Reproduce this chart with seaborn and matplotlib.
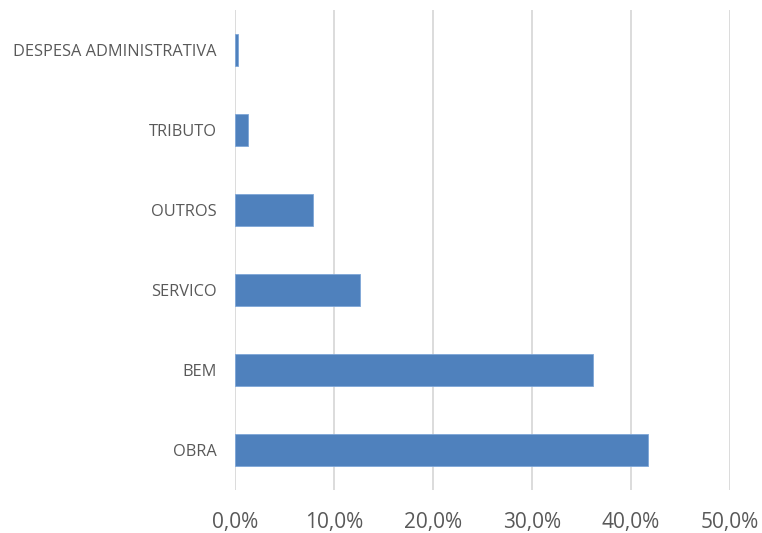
import seaborn as sns
import matplotlib.pyplot as plt
import pandas as pd
from matplotlib.ticker import FuncFormatter

# categories from top to bottom, shares as fractions
categorias = ["DESPESA ADMINISTRATIVA", "TRIBUTO", "OUTROS", "SERVICO", "BEM", "OBRA"]
percentuais = [0.003, 0.0128, 0.079, 0.126, 0.362, 0.417]
ticks_x = [0.0, 0.1, 0.2, 0.3, 0.4, 0.5]


def plot_data(df):
    sns.set_style("white")
    plt.rcParams['font.family'] = ['Open Sans', 'DejaVu Sans']

    fig = plt.figure(figsize=(7.62, 5.33), dpi=100)
    ax = fig.add_axes([0.3084, 0.0807, 0.6496, 0.9005])

    sns.barplot(data=df, x="valor", y="categoria", orient="h",
                color="#4f81bd", saturation=1, width=0.4,
                edgecolor="#7ea6d8", linewidth=0.6, ax=ax)

    ax.set_xlim(0, 0.5)
    ax.set_ylim(5.5, -0.5)
    ax.set_xticks(ticks_x)
    ax.xaxis.set_major_formatter(
        FuncFormatter(lambda v, _: f"{v * 100:.1f}%".replace(".", ",")))
    ax.grid(axis="x", color="#d9d9d9", linewidth=1.3)
    ax.set_axisbelow(True)
    for s in ax.spines.values():
        s.set_visible(False)

    ax.tick_params(axis="x", length=0, pad=15.5, labelsize=15, labelcolor="#595959")
    ax.tick_params(axis="y", length=0, pad=13, labelsize=11.8, labelcolor="#595959")
    ax.set_xlabel("")
    ax.set_ylabel("")

    fig.savefig("out.png", dpi=100)


def main():
    df = pd.DataFrame({"categoria": categorias, "valor": percentuais})
    plot_data(df)


if __name__ == "__main__":
    main()
